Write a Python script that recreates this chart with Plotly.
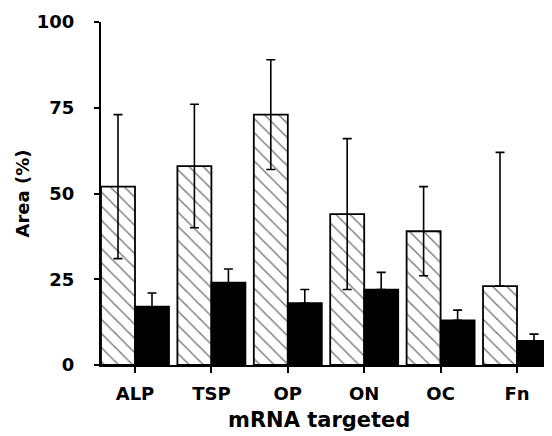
import plotly.graph_objects as go

categories = ["ALP", "TSP", "OP", "ON", "OC", "Fn"]
hatched_vals = [52, 58, 73, 44, 39, 23]
hatched_upper = [73, 76, 89, 66, 52, 62]
hatched_lower = [31, 40, 57, 22, 26, 23]
black_vals = [17, 24, 18, 22, 13, 7]
black_upper = [21, 28, 22, 27, 16, 9]
y_ticks = [0, 25, 50, 75, 100]

FONT = "DejaVu Sans"

fig = go.Figure()
fig.add_trace(go.Bar(
    x=categories, y=hatched_vals,
    marker=dict(color="white",
                line=dict(color="black", width=1.8),
                pattern=dict(shape="\\", fgcolor="black", bgcolor="white",
                             size=10, solidity=0.15)),
    error_y=dict(type="data", symmetric=False,
                 array=[u - v for u, v in zip(hatched_upper, hatched_vals)],
                 arrayminus=[v - l for v, l in zip(hatched_vals, hatched_lower)],
                 color="black", thickness=1.6, width=4.5),
    showlegend=False,
))
fig.add_trace(go.Bar(
    x=categories, y=black_vals,
    marker=dict(color="black", line=dict(color="black", width=1.8)),
    error_y=dict(type="data", symmetric=False,
                 array=[u - v for u, v in zip(black_upper, black_vals)],
                 arrayminus=[0] * len(black_vals),
                 color="black", thickness=1.6, width=4.5),
    showlegend=False,
))

# page body has an 8px margin, so the figure is offset by 8px
fig.update_layout(
    width=544, height=428,
    margin=dict(l=93, r=0, t=14, b=71),
    paper_bgcolor="white", plot_bgcolor="white",
    barmode="group", bargap=0.11, bargroupgap=0,
    font=dict(family=FONT, color="black", size=18),
    xaxis=dict(range=[-0.445, 5.458], showline=True, linecolor="black", linewidth=2,
               ticks="outside", ticklen=6, tickwidth=2, tickcolor="black",
               ticklabelstandoff=5,
               tickfont=dict(family=FONT, size=18, weight="bold"),
               showgrid=False, zeroline=False),
    yaxis=dict(range=[0, 100], tickvals=y_ticks, showline=True, linecolor="black", linewidth=2,
               ticks="outside", ticklen=5, tickwidth=2, tickcolor="black",
               ticklabelstandoff=16,
               tickfont=dict(family=FONT, size=18, weight="bold"),
               showgrid=False, zeroline=False),
    annotations=[
        dict(text="mRNA targeted", xref="paper", yref="paper",
             x=(319 - 101) / 451, y=-55 / 343, xanchor="center", yanchor="middle",
             showarrow=False, font=dict(family=FONT, size=21, weight="bold")),
        dict(text="Area (%)", xref="paper", yref="paper",
             x=(22 - 101) / 451, y=0.5, xanchor="center", yanchor="middle",
             textangle=-90, showarrow=False,
             font=dict(family=FONT, size=18, weight="bold")),
    ],
)

fig.write_html("out.html")
